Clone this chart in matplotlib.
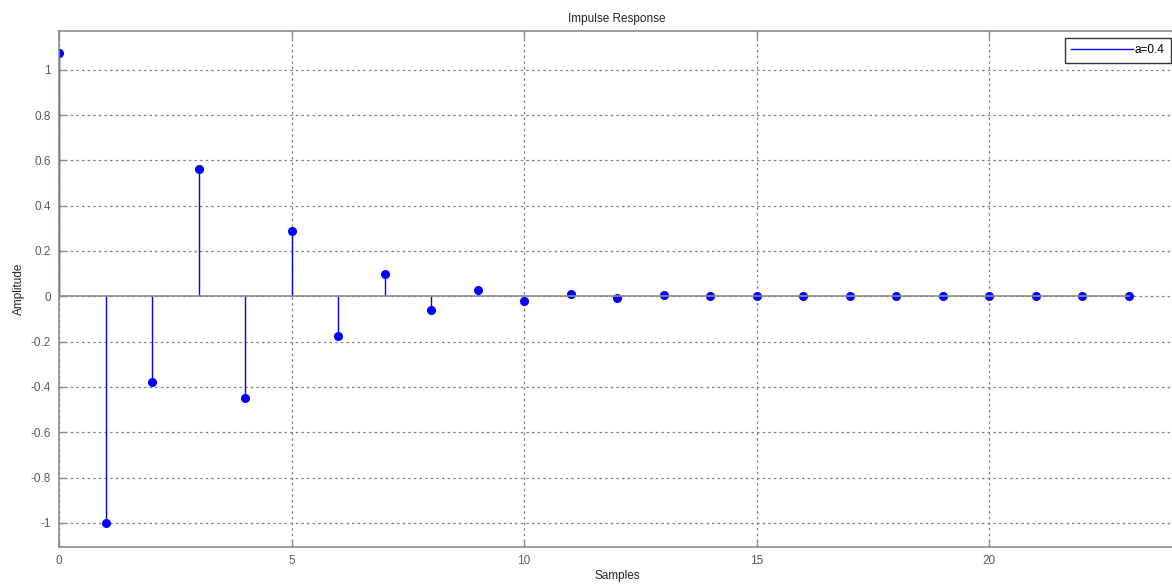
import matplotlib.pyplot as plt
from matplotlib.lines import Line2D

plt.rcParams['font.family'] = ['Liberation Sans', 'DejaVu Sans']

# impulse response samples
samples = list(range(24))
amplitude = [1.075, -1.0, -0.38, 0.563, -0.447, 0.289, -0.177, 0.098, -0.06, 0.028,
             -0.021, 0.008, -0.006, 0.004, 0.001, 0.0, 0.0, 0.0, 0.0, 0.0,
             0.0, 0.0, 0.0, 0.0]
x_ticks = [0, 5, 10, 15, 20]
y_ticks = [-1, -0.8, -0.6, -0.4, -0.2, 0, 0.2, 0.4, 0.6, 0.8, 1]
y_tick_labels = ['-1', '-0.8', '-0.6', '-0.4', '-0.2', '0', '0.2', '0.4', '0.6', '0.8', '1']

axis_grey = '#8c8c8c'
text_grey = '#5a5a5a'

fig = plt.figure(figsize=(11.72, 5.84), dpi=100)
ax = fig.add_axes([59 / 1172, 37.3 / 584, 1116 / 1172, 516 / 584])

markerline, stemlines, baseline = ax.stem(samples, amplitude, linefmt='-', markerfmt='o',
                                          basefmt='-', label='a=0.4')
plt.setp(stemlines, color='#0000ff', linewidth=1)
plt.setp(markerline, color='#0000ff', markersize=5.5)
plt.setp(baseline, color='#8c8c8c', linewidth=1.2)

ax.set_xlim(0, 24)
ax.set_ylim(-1.105, 1.172)
ax.set_xticks(x_ticks)
ax.set_yticks(y_ticks)
ax.set_yticklabels(y_tick_labels)

ax.grid(True, color='#808080', linestyle=(0, (2, 2.5)), linewidth=0.9)
ax.set_axisbelow(True)

for side in ['left', 'bottom', 'top']:
    ax.spines[side].set_color(axis_grey)
    ax.spines[side].set_linewidth(1.2)
ax.spines['right'].set_visible(False)

ax.tick_params(direction='in', length=5, width=1, color=axis_grey, labelcolor=text_grey,
               labelsize=8.5, top=True, pad=6)

ax.set_title('Impulse Response', fontsize=8.5, color='#222222', pad=6)
ax.set_xlabel('Samples', fontsize=8.5, color='#222222', labelpad=2)
ax.set_ylabel('Amplitude', fontsize=8.5, color='#222222', labelpad=4)

# legend shows only the line, as in the original
handle = Line2D([], [], color='#0000ff', linewidth=1)
leg = ax.legend([handle], ['a=0.4'], loc='upper right', bbox_to_anchor=(0.9964, 0.986),
                fontsize=8.5, frameon=True, fancybox=False, handlelength=5.2,
                handletextpad=0.15, borderpad=0.55, borderaxespad=0.0)
leg.get_frame().set_edgecolor('black')
leg.get_frame().set_linewidth(1)

fig.savefig('out.png', dpi=100)
